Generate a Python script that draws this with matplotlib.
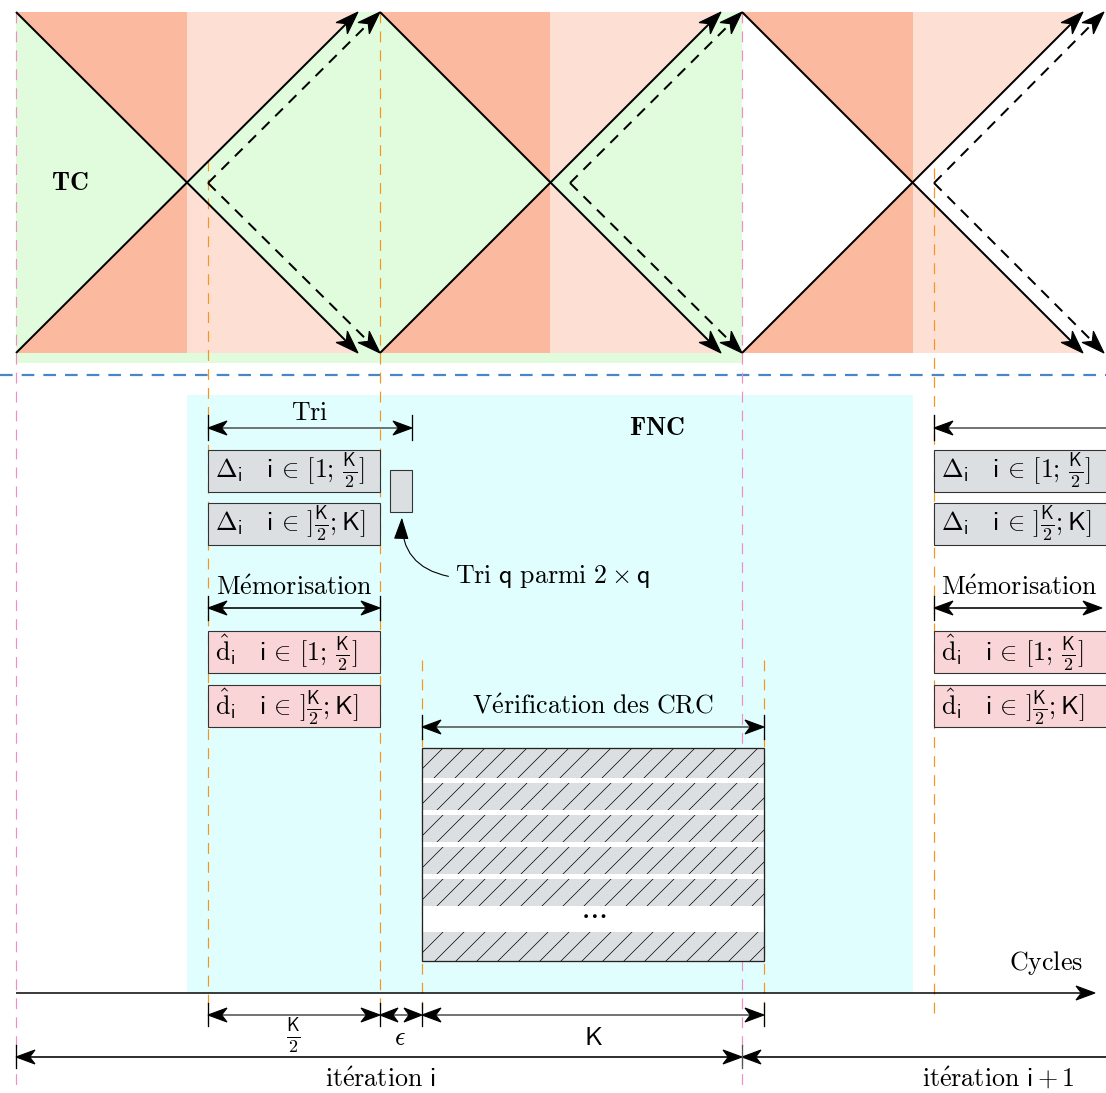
import numpy as np
import matplotlib
matplotlib.use('Agg')
import matplotlib.pyplot as plt
from matplotlib.patches import Rectangle, Polygon, FancyArrowPatch

W, H, DPI = 1106, 1093, 130
PT = 72.0 / DPI
plt.rcParams['mathtext.fontset'] = 'cm'
plt.rcParams['lines.scale_dashes'] = False
FS = 26 * PT

# ---------------- data ----------------
col_x = [16, 187, 380, 550, 742, 913, 1106]
col_colors = ['#fbbaa0', '#fde0d3', '#fbbaa0', '#fde0d3', '#fbbaa0', '#fde0d3']
y_top, y_mid, y_bot = 12, 183, 353
green_polys = [
    [(16, 12), (187, 183), (16, 353)],
    [(187, 183), (358, 12), (380, 12), (550, 183), (380, 353), (358, 353)],
    [(550, 183), (721, 12), (742, 12), (742, 353), (721, 353)],
]
white_polys = [
    [(742, 12), (913, 183), (742, 353)],
    [(913, 183), (1083, 12), (1106, 12), (1106, 353), (1083, 353)],
]
solid_diag = [((16, 12), (358, 353)), ((16, 353), (358, 12)),
              ((380, 12), (721, 353)), ((380, 353), (721, 12)),
              ((742, 12), (1083, 353)), ((742, 353), (1083, 12))]
dashed_diag = [((208, 183), (380, 12)), ((208, 183), (380, 353)),
               ((570, 183), (742, 12)), ((570, 183), (742, 353)),
               ((934, 183), (1104, 12)), ((934, 183), (1104, 353))]
pink_vlines = [(16, 12, 1088), (742, 12, 1090)]
orange_vlines = [(208, 160, 1025), (380, 12, 1005), (422, 660, 1010),
                 (764, 660, 1025), (934, 168, 1015)]
fnc_region = (187, 395, 913, 993)
delta_boxes = [(208, 450, 380, 492), (208, 503, 380, 545),
               (934, 450, 1120, 492), (934, 503, 1120, 545)]
d_boxes = [(208, 631, 380, 673), (208, 685, 380, 727),
           (934, 631, 1120, 673), (934, 685, 1120, 727)]
delta_labels = [r'$\Delta_{\mathsf{i}}\quad\mathsf{i}\,\in\,[1;\,\frac{\mathsf{K}}{2}]$',
                r'$\Delta_{\mathsf{i}}\quad\mathsf{i}\,\in\,]\frac{\mathsf{K}}{2};\mathsf{K}]$']
d_labels = [r'$\hat{\mathrm{d}}_{\mathsf{i}}\quad\mathsf{i}\,\in\,[1;\,\frac{\mathsf{K}}{2}]$',
            r'$\hat{\mathrm{d}}_{\mathsf{i}}\quad\mathsf{i}\,\in\,]\frac{\mathsf{K}}{2};\mathsf{K}]$']
small_box = (390, 470, 412, 512)
crc_block = (422, 748, 764, 961)
crc_stripes = [(748, 778), (783, 810), (815, 842), (847, 874), (879, 906), (932, 961)]
hatch_step = 21

# ---------------- figure ----------------
fig = plt.figure(figsize=(W / DPI, H / DPI), dpi=DPI)
ax = fig.add_axes([0, 0, 1, 1])
ax.set_xlim(0, W)
ax.set_ylim(H, 0)
ax.axis('off')


def rect(x0, y0, x1, y1, **kw):
    p = Rectangle((x0, y0), x1 - x0, y1 - y0, **kw)
    ax.add_patch(p)
    return p


def head(tip, d, L, w, color='black', z=6):
    tx, ty = tip
    dx, dy = d
    n = np.hypot(dx, dy)
    dx, dy = dx / n, dy / n
    nx, ny = -dy, dx
    pts = [(tx, ty),
           (tx - dx * L + nx * w, ty - dy * L + ny * w),
           (tx - dx * L * 0.72, ty - dy * L * 0.72),
           (tx - dx * L - nx * w, ty - dy * L - ny * w)]
    ax.add_patch(Polygon(pts, closed=True, fc=color, ec=color, lw=0.6, zorder=z))


def arrow(p0, p1, start=False, end=True, L=19, w=7, lw=1.6, color='black',
          hcolor='black', dashes=None, z=5):
    (x0, y0), (x1, y1) = p0, p1
    d = np.array([x1 - x0, y1 - y0], float)
    u = d / np.hypot(*d)
    a = np.array(p0, float) + (u * L * 0.6 if start else 0)
    b = np.array(p1, float) - (u * L * 0.6 if end else 0)
    kw = dict(color=color, lw=lw * PT, zorder=z, solid_capstyle='butt')
    if dashes:
        kw['dashes'] = dashes
    ax.plot([a[0], b[0]], [a[1], b[1]], **kw)
    if end:
        head(p1, d, L, w, hcolor, z + 1)
    if start:
        head(p0, -d, L, w, hcolor, z + 1)


def vbar(x, y0, y1, color='black', lw=1.3):
    ax.plot([x, x], [y0, y1], color=color, lw=lw * PT, zorder=6)


def label(x, y, s, ha='center', fs=FS):
    ax.text(x, y, s, fontsize=fs, ha=ha, va='center', zorder=8)


# top background
rect(16, 353, 742, 363, fc='#e0fcdc', ec='none', zorder=0)
for i in range(len(col_colors)):
    rect(col_x[i], y_top, col_x[i + 1], y_bot, fc=col_colors[i], ec='none', zorder=0)
for p in green_polys:
    ax.add_patch(Polygon(p, closed=True, fc='#e0fcdc', ec='none', zorder=1))
for p in white_polys:
    ax.add_patch(Polygon(p, closed=True, fc='white', ec='none', zorder=1))

# FNC region
fx0, fy0, fx1, fy1 = fnc_region
rect(fx0, fy0, fx1, fy1, fc='#e0fefe', ec='none', zorder=0)

# separator
ax.plot([0, W], [375, 375], color='#4a86c5', lw=2.2 * PT, dashes=(7, 5), zorder=2)

# vertical guides
for x, a, b in pink_vlines:
    ax.plot([x, x], [a, b], color='#f08cc8', lw=1.2 * PT, dashes=(6, 4.5), zorder=2)
for x, a, b in orange_vlines:
    ax.plot([x, x], [a, b], color='#f5941e', lw=1.2 * PT, dashes=(6, 4.5), zorder=2)

# diagonals
for p0, p1 in solid_diag:
    arrow(p0, p1, L=23, w=8, lw=2.0)
for p0, p1 in dashed_diag:
    arrow(p0, p1, L=23, w=8, lw=2.0, dashes=(6, 4.5))

label(70, 183, r'$\mathbf{TC}$')
label(657, 428, r'$\mathbf{FNC}$')

# boxes
for k, (x0, y0, x1, y1) in enumerate(delta_boxes):
    rect(x0, y0, x1, y1, fc='#dcdfe1', ec='#333333', lw=1.1 * PT, zorder=4)
    label(x0 + 7, (y0 + y1) / 2 + 1, delta_labels[k % 2], ha='left')
for k, (x0, y0, x1, y1) in enumerate(d_boxes):
    rect(x0, y0, x1, y1, fc='#f9d5d7', ec='#333333', lw=1.1 * PT, zorder=4)
    label(x0 + 7, (y0 + y1) / 2 + 1, d_labels[k % 2], ha='left')
rect(small_box[0], small_box[1], small_box[2], small_box[3], fc='#dcdfe1',
     ec='#333333', lw=1.1 * PT, zorder=4)

# Tri
arrow((208, 428), (412, 428), start=True, color='#555555')
vbar(208, 415, 440); vbar(412, 415, 440)
label(310, 413, r'$\mathrm{Tri}$')
arrow((1115, 428), (934, 428), color='#555555')
vbar(934, 415, 440)

# Memorisation
arrow((208, 608), (380, 608), start=True)
vbar(208, 596, 620); vbar(380, 596, 620)
label(294, 588, r'$\mathrm{M\acute{e}morisation}$')
arrow((934, 608), (1102, 608), start=True)
vbar(934, 596, 620)
label(1019, 588, r'$\mathrm{M\acute{e}morisation}$')

# curved annotation
ax.add_patch(FancyArrowPatch((452, 577), (402, 514), connectionstyle='arc3,rad=-0.45',
                             arrowstyle='-|>,head_length=%f,head_width=%f' % (19 * PT, 6.5 * PT),
                             mutation_scale=1, color='black', lw=1.1 * PT, zorder=6))
label(455, 577, r'$\mathrm{Tri}\ \mathsf{q}\ \mathrm{parmi}\ 2\times\mathsf{q}$', ha='left')

# CRC
arrow((422, 727), (764, 727), start=True, color='#555555')
vbar(422, 715, 739); vbar(764, 715, 739)
label(593, 706, r'$\mathrm{V\acute{e}rification\ des\ CRC}$')
cx0, cy0, cx1, cy1 = crc_block
rect(cx0, cy0, cx1, cy1, fc='white', ec='none', zorder=3)
for a, b in crc_stripes:
    clip = rect(cx0, a, cx1, b, fc='#dcdfe1', ec='none', lw=0, zorder=4)
    hgt = b - a
    for xs in np.arange(cx0 - hgt, cx1 + hgt, hatch_step):
        ln, = ax.plot([xs, xs + hgt], [b, a], color='black', lw=0.7 * PT, zorder=4.5)
        ln.set_clip_path(clip)
rect(cx0, cy0, cx1, cy1, fc='none', ec='#222222', lw=1.3 * PT, zorder=5)
label(593, 913, r'$\cdots$', fs=FS * 1.15)

# cycles axis
arrow((16, 993), (1095, 993), L=19, w=7, lw=1.5)
label(1046, 963, r'$\mathrm{Cycles}$')

# bottom dimensions
arrow((208, 1015), (380, 1015), start=True, color='#555555')
arrow((380, 1015), (422, 1015), start=True, color='#555555', L=18, w=7)
arrow((422, 1015), (764, 1015), start=True, color='#555555')
for x in (208, 380, 422, 764):
    vbar(x, 1003, 1026)
label(293, 1037, r'$\frac{\mathsf{K}}{2}$')
label(400, 1038, r'$\epsilon$')
label(593, 1038, r'$\mathsf{K}$')

arrow((16, 1057), (742, 1057), start=True)
arrow((1115, 1057), (742, 1057))
vbar(16, 1045, 1068); vbar(742, 1045, 1068, color='#555555')
label(380, 1080, r'$\mathrm{it\acute{e}ration}\ \mathsf{i}$')
label(998, 1080, r'$\mathrm{it\acute{e}ration}\ \mathsf{i}+1$')

fig.savefig('out.png', dpi=DPI)
